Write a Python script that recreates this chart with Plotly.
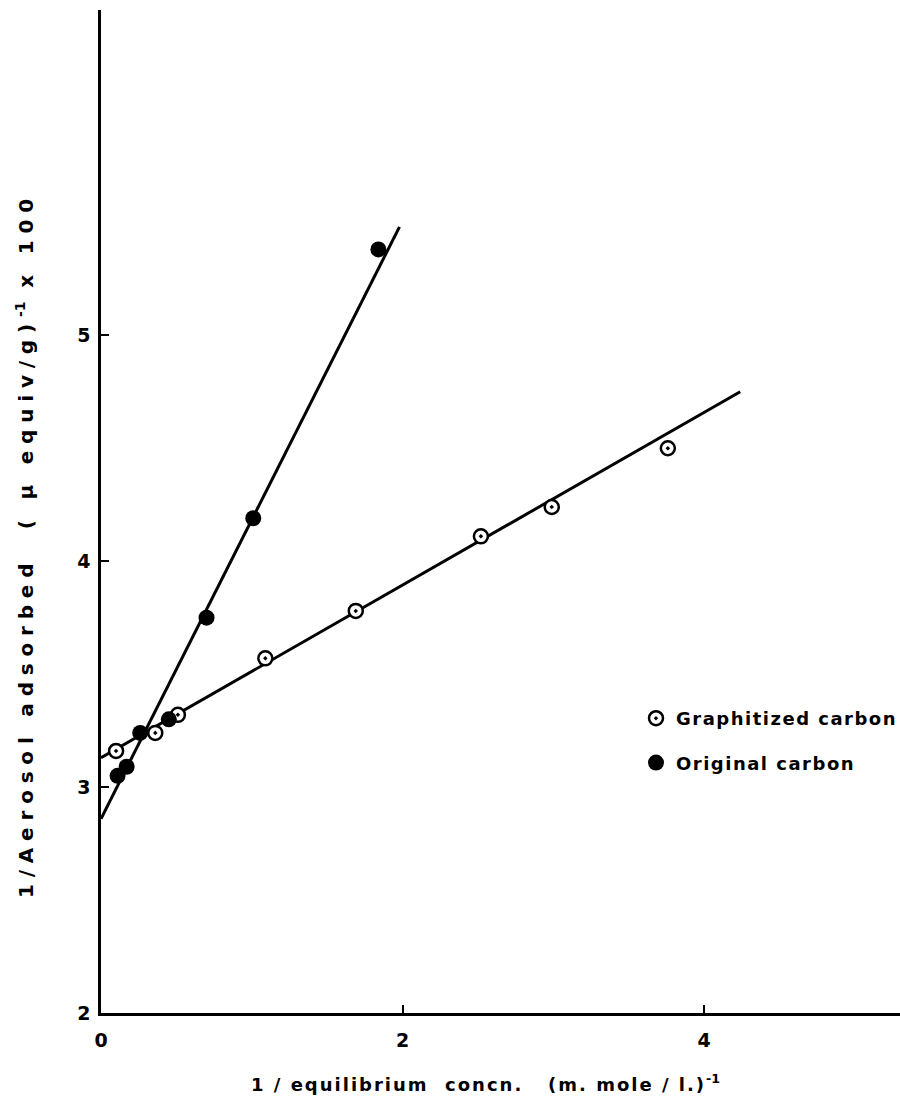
import plotly.graph_objects as go

# Graphitized carbon (open circles with centre dot)
graph_x = [0.10, 0.36, 0.51, 1.09, 1.69, 2.52, 2.99, 3.76]
graph_y = [3.16, 3.24, 3.32, 3.57, 3.78, 4.11, 4.24, 4.50]

# Original carbon (filled circles)
orig_x = [0.11, 0.17, 0.26, 0.45, 0.70, 1.01, 1.84]
orig_y = [3.05, 3.09, 3.24, 3.30, 3.75, 4.19, 5.38]

# Fitted straight lines (end points)
graph_line_x = [0.0, 4.24]
graph_line_y = [3.13, 4.75]
orig_line_x = [0.0, 1.98]
orig_line_y = [2.86, 5.48]

x_ticks = [0, 2, 4]
y_ticks = [2, 3, 4, 5]

FONT = "DejaVu Sans"
INK = "black"


def spaced(text, px):
    return f'<span style="letter-spacing:{px}px">{text}</span>'


fig = go.Figure()

fig.add_trace(go.Scatter(x=graph_line_x, y=graph_line_y, mode="lines",
                         line=dict(color=INK, width=3), showlegend=False,
                         hoverinfo="skip"))
fig.add_trace(go.Scatter(x=orig_line_x, y=orig_line_y, mode="lines",
                         line=dict(color=INK, width=3), showlegend=False,
                         hoverinfo="skip"))

fig.add_trace(go.Scatter(
    x=graph_x, y=graph_y, mode="markers", name=spaced("Graphitized carbon", 1.5),
    legendgroup="g",
    marker=dict(symbol="circle-dot", size=14, color="white",
                line=dict(color=INK, width=2.5)),
))
fig.add_trace(go.Scatter(
    x=orig_x, y=orig_y, mode="markers", name=spaced("Original carbon", 1.5),
    legendgroup="o",
    marker=dict(symbol="circle", size=16, color=INK,
                line=dict(color=INK, width=0)),
))

axis_common = dict(
    showgrid=False, zeroline=False, showline=True, linecolor=INK,
    linewidth=2.5, ticks="inside", ticklen=8, tickwidth=2, tickcolor=INK,
    tickfont=dict(family=FONT, size=19, color=INK, weight="bold"),
)

fig.update_xaxes(range=[0, 5.30], tickvals=x_ticks, ticktext=[str(v) for v in x_ticks],
                 ticklabelstandoff=8, **axis_common)
fig.update_yaxes(range=[2, 6.44], tickvals=y_ticks, ticktext=[str(v) for v in y_ticks],
                 ticklabelstandoff=4, **axis_common)

fig.add_annotation(
    text=spaced("1 / equilibrium  concn.   (m. mole / l.)", 2) + "<sup>-1</sup>",
    xref="paper", yref="paper", x=(485 - 101) / 799, y=-(1083 - 1013) / 1003,
    xanchor="center", yanchor="middle", showarrow=False,
    font=dict(family=FONT, size=18, color=INK, weight="bold"),
)
fig.add_annotation(
    text=spaced("1/Aerosol adsorbed  ( \u03bc equiv/g)", 6.8)
         + "<sup>-1</sup>" + spaced(" x 100", 6.8),
    xref="paper", yref="paper", x=(25 - 101) / 799, y=(1013 - 545) / 1003,
    xanchor="center", yanchor="middle", textangle=-90, showarrow=False,
    font=dict(family=FONT, size=20, color=INK, weight="bold"),
)

fig.update_layout(
    width=900, height=1105,
    margin=dict(l=101, r=0, t=10, b=92, autoexpand=False),
    paper_bgcolor="white", plot_bgcolor="white",
    showlegend=True,
    legend=dict(x=(636 - 101) / 799, y=(1013 - 700) / 1003, xanchor="left",
                yanchor="top", bgcolor="rgba(0,0,0,0)", tracegroupgap=18,
                font=dict(family=FONT, size=18, color=INK, weight="bold")),
)

fig.write_html("out.html")
